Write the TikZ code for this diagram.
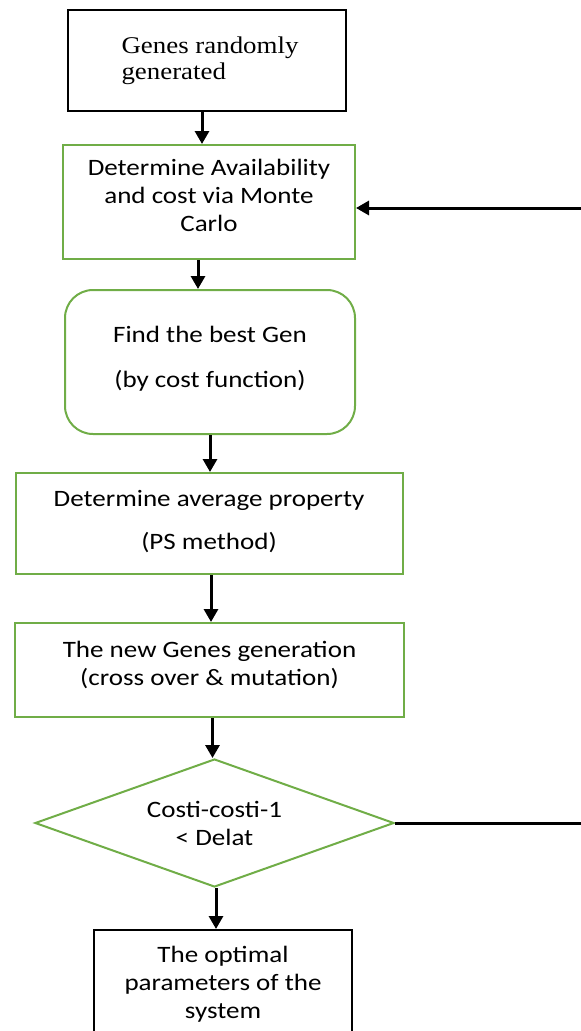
\documentclass[tikz,border=0pt]{standalone}
\usepackage{fontspec}
\setmainfont{Liberation Serif}[FakeStretch=1.12]
\setsansfont{Carlito}[FakeStretch=1.15]
\usetikzlibrary{arrows.meta,shapes.geometric,calc}
\definecolor{boxgreen}{RGB}{112,173,71}

\begin{document}
\begin{tikzpicture}[x=1pt,y=-1pt,>={Triangle[length=13pt,width=14pt]},
    font=\sffamily\fontsize{23.5}{28}\selectfont,
    blackbox/.style={draw=black,line width=2pt,align=center},
    greenbox/.style={draw=boxgreen,line width=2pt,align=center},
    flow/.style={->,line width=3pt}]
    \useasboundingbox (0,0) rectangle (581,1031);

    % boxes of the loop
    \node[blackbox,minimum width=278pt,minimum height=101pt,align=left,
      font=\rmfamily\fontsize{24}{26}\selectfont] (genes) at (207,60.5) {\hspace*{6pt}Genes randomly\\\hspace*{6pt}generated};
    \node[greenbox,minimum width=292pt,minimum height=114pt] (avail) at (209,202) {Determine Availability\\and cost via Monte\\Carlo\\[-14pt]\mbox{}};
    \node[greenbox,rounded corners=28pt,minimum width=290pt,minimum height=144pt] (best) at (210,362) {Find the best Gen\\[17pt](by cost function)\\[-18pt]\mbox{}};
    \node[greenbox,minimum width=387pt,minimum height=101pt] (avg) at (209,523.5) {Determine average property\\[15pt](PS method)\\[-20pt]\mbox{}};
    \node[greenbox,minimum width=389pt,minimum height=94pt] (newgen) at (209.5,670) {The new Genes generation\\(cross over \& mutation)\\[-14pt]\mbox{}};
    \node[greenbox,diamond,aspect=2.8,inner sep=0pt,minimum width=359pt,minimum height=128pt] (test) at (214.5,823) {Costi-costi-1\\< Delat};
    \node[blackbox,minimum width=258pt,minimum height=110pt] (optimal) at (223,985) {The optimal\\parameters of the\\system\\[-22pt]\mbox{}};

    % arrows down
    \draw[flow] ([xshift=-5pt]genes.south) -- ([xshift=-5pt]genes.south |- avail.north);
    \draw[flow] ([xshift=-11pt]avail.south) -- ([xshift=-11pt]avail.south |- best.north);
    \draw[flow] (best.south) -- (best.south |- avg.north);
    \draw[flow] ([xshift=2pt]avg.south) -- ([xshift=2pt]avg.south |- newgen.north);
    \draw[flow] ([xshift=3pt]newgen.south) -- ([xshift=3pt]newgen.south |- test.north);
    \draw[flow] ([xshift=1.5pt]test.south) -- ([xshift=1.5pt]test.south |- optimal.north);

    % back to the start
    \coordinate (loopturn) at (590,823);
    \draw[flow] (test.east) -- (loopturn) |- ([yshift=-6pt]avail.east);
\end{tikzpicture}
\end{document}
